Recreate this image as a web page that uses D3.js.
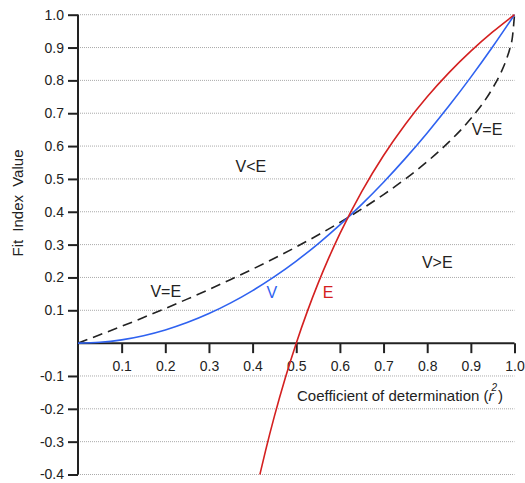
<!DOCTYPE html>
<html>
<head>
<meta charset="utf-8">
<script src="https://cdnjs.cloudflare.com/ajax/libs/d3/7.8.5/d3.min.js"></script>
<style>
  body { margin: 0; background: #fff; }
  text { font-family: "Liberation Sans", Arial, sans-serif; fill: #222; }
</style>
</head>
<body>
<div id="chart"></div>
<script>
// values
var X_V = [0, .05, .1, .15, .2, .25, .3, .35, .4, .45, .5, .55, .6, .65, .7, .75, .8, .85, .9, .95, 1];
var Y_V = [0, .0025, .01, .0225, .04, .0625, .09, .1225, .16, .2025, .25, .3025, .36, .4225, .49, .5625, .64, .7225, .81, .9025, 1];

var X_E = [.4167, .43, .45, .475, .5, .525, .55, .575, .6, .65, .7, .75, .8, .85, .9, .95, 1];
var Y_E = [-.4, -.3256, -.2222, -.1053, 0, .0952, .1818, .2609, .3333, .4615, .5714, .6667, .75, .8235, .8889, .9474, 1];

var X_EQ = [0, .05, .1, .15, .2, .25, .3, .35, .4, .45, .5, .55, .6, .65, .7, .75, .8, .85, .9, .95, .97, .98, .99, .995, 1];
var Y_EQ = [0, .0253, .0513, .078, .1056, .134, .1633, .1938, .2254, .2584, .2929, .3292, .3675, .4084, .4523, .5, .5528, .6127, .6838, .7764, .8268, .8586, .9, .9293, 1];

var X_TICKS = [.1, .2, .3, .4, .5, .6, .7, .8, .9, 1];
var Y_TICKS = [-.4, -.3, -.2, -.1, .1, .2, .3, .4, .5, .6, .7, .8, .9, 1];

var W = 525, H = 483;

var x = d3.scaleLinear().domain([0, 1]).range([78, 514.5]);
var y = d3.scaleLinear().domain([-0.4, 1]).range([474.5, 14.7]);

var svg = d3.select("#chart").append("svg")
    .attr("width", W)
    .attr("height", H);

//dotted gridlines
svg.append("g").selectAll("line")
    .data(Y_TICKS)
    .enter().append("line")
    .attr("x1", x(0))
    .attr("x2", x(1))
    .attr("y1", function (d) { return y(d); })
    .attr("y2", function (d) { return y(d); })
    .style("stroke", "#aaa")
    .style("stroke-width", 1)
    .style("stroke-dasharray", "1,1");

//y axis
var yAxis = svg.append("g")
    .attr("transform", "translate(" + x(0) + ",0)")
    .call(d3.axisLeft(y).tickValues(Y_TICKS).tickSize(10).tickPadding(4)
        .tickFormat(d3.format(".1f")));
yAxis.select(".domain").attr("d", "M0," + y(1) + "V" + y(-0.4))
    .style("stroke", "#222").style("stroke-width", 2);
yAxis.selectAll(".tick line").style("stroke", "#222").style("stroke-width", 2);
yAxis.selectAll(".tick text").style("font-size", "14px")
    .style("font-family", "'Liberation Sans', Arial, sans-serif").attr("fill", "#222")
    .text(function (d) { return d3.format(".1f")(d).replace("−", "-"); });

//x axis along y = 0
var xAxis = svg.append("g")
    .attr("transform", "translate(0," + y(0) + ")")
    .call(d3.axisBottom(x).tickValues(X_TICKS).tickSize(10).tickPadding(8)
        .tickFormat(d3.format(".1f")));
xAxis.select(".domain").attr("d", "M" + x(0) + ",0H" + x(1))
    .style("stroke", "#222").style("stroke-width", 2);
xAxis.selectAll(".tick line").style("stroke", "#222").style("stroke-width", 2);
xAxis.selectAll(".tick text").style("font-size", "14px")
    .style("font-family", "'Liberation Sans', Arial, sans-serif").attr("fill", "#222");

var line = d3.line()
    .x(function (d) { return x(d[0]); })
    .y(function (d) { return y(d[1]); })
    .curve(d3.curveMonotoneX);

svg.append("clipPath").attr("id", "plot")
    .append("rect").attr("x", x(0)).attr("y", y(1) - 2)
    .attr("width", x(1) - x(0) + 2).attr("height", y(-0.4) - y(1) + 2);

svg.append("path")
    .datum(d3.zip(X_EQ, Y_EQ))
    .attr("d", line)
    .attr("clip-path", "url(#plot)")
    .style("fill", "none")
    .style("stroke", "#222")
    .style("stroke-width", 1.6)
    .style("stroke-dasharray", "10,6");

svg.append("path")
    .datum(d3.zip(X_V, Y_V))
    .attr("d", line)
    .style("fill", "none")
    .style("stroke", "#2f62f0")
    .style("stroke-width", 1.6);

svg.append("path")
    .datum(d3.zip(X_E, Y_E))
    .attr("d", line)
    .style("fill", "none")
    .style("stroke", "#d42020")
    .style("stroke-width", 1.6);

//region and curve labels
var LABELS = [
    { t: "V<E", x: 0.396, y: 0.52, c: "#222" },
    { t: "V>E", x: 0.823, y: 0.23, c: "#222" },
    { t: "V=E", x: 0.201, y: 0.14, c: "#222" },
    { t: "V=E", x: 0.937, y: 0.635, c: "#222" },
    { t: "V", x: 0.444, y: 0.137, c: "#2f62f0" },
    { t: "E", x: 0.573, y: 0.137, c: "#d42020" }
];
svg.append("g").selectAll("text")
    .data(LABELS)
    .enter().append("text")
    .attr("x", function (d) { return x(d.x); })
    .attr("y", function (d) { return y(d.y); })
    .attr("text-anchor", "middle")
    .style("font-size", "16px")
    .style("fill", function (d) { return d.c; })
    .text(function (d) { return d.t; });

//axis titles
svg.append("text")
    .attr("transform", "translate(23,203) rotate(-90)")
    .attr("text-anchor", "middle")
    .style("font-size", "15px")
    .style("word-spacing", "4px")
    .text("Fit Index Value");

var xt = svg.append("text")
    .attr("x", 297)
    .attr("y", 401)
    .style("font-size", "15px");
xt.append("tspan").text("Coefficient of determination (");
xt.append("tspan").style("font-style", "italic").text("r");
xt.append("tspan").attr("dy", -10).attr("dx", -2).style("font-size", "10px").style("font-style", "italic").text("2");
xt.append("tspan").attr("dy", 10).attr("dx", 1).text(")");
</script>
</body>
</html>
